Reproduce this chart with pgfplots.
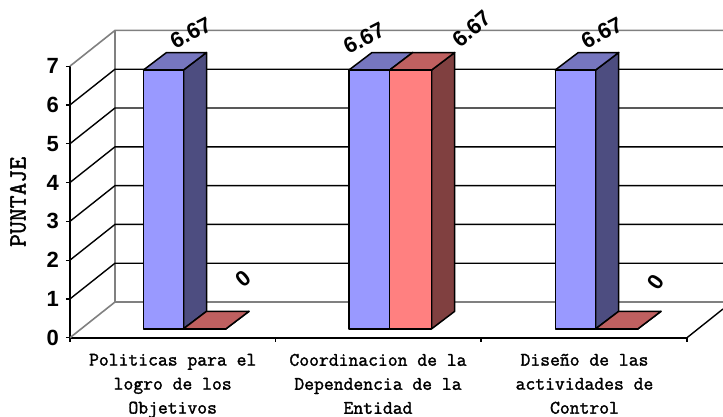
\documentclass[border=0pt]{standalone}
\usepackage{pgfplots}
\usepackage{fontspec}
\pgfplotsset{compat=1.18}
\setmainfont{Liberation Sans}
\newfontfamily\labelfont{Latin Modern Mono}[FakeBold=1.6]

\definecolor{bluefront}{HTML}{9999FF}
\definecolor{bluetop}{HTML}{7676BF}
\definecolor{blueside}{HTML}{4D4D80}
\definecolor{redfront}{HTML}{FF8080}
\definecolor{redtop}{HTML}{BF6060}
\definecolor{redside}{HTML}{804040}
\definecolor{wallgrey}{HTML}{808080}

% Depth of a column and its floor offset, in axis units
\newcommand{\depthx}{23}
\newcommand{\depthy}{0.45}
\newcommand{\basey}{0.23}

% \columnbar{x left}{x right}{value}{front}{top}{side}
\newcommand{\columnbar}[6]{%
  \pgfmathsetmacro{\yb}{\basey}%
  \pgfmathsetmacro{\yt}{\basey+#3}%
  \pgfmathsetmacro{\ybb}{\basey+\depthy}%
  \pgfmathsetmacro{\ytb}{\basey+#3+\depthy}%
  \pgfmathsetmacro{\xlb}{#1+\depthx}%
  \pgfmathsetmacro{\xrb}{#2+\depthx}%
  \edef\doplots{%
    \noexpand\addplot[draw=black,line width=1.5bp,fill=#6,line join=round] coordinates {(#2,\yb) (\xrb,\ybb) (\xrb,\ytb) (#2,\yt)} --cycle;
    \noexpand\addplot[draw=black,line width=1.5bp,fill=#5,line join=round] coordinates {(#1,\yt) (#2,\yt) (\xrb,\ytb) (\xlb,\ytb)} --cycle;
    \noexpand\addplot[draw=black,line width=1.5bp,fill=#4,line join=round] coordinates {(#1,\yb) (#2,\yb) (#2,\yt) (#1,\yt)} --cycle;
  }\doplots
}

% One grid level: diagonal on the side wall, then the line along the back wall
\newcommand{\gridlevel}[1]{%
  \pgfmathsetmacro{\yback}{#1+0.92}%
  \edef\doplots{%
    \noexpand\addplot[black,line width=1.4bp] coordinates {(70,#1) (115,\yback) (723,\yback)};
  }\doplots
}

\begin{document}
\begin{tikzpicture}
\path[use as bounding box] (-70bp,-79.3bp) rectangle (653bp,337.7bp);
\begin{axis}[
  scale only axis,
  width=617bp, height=271.6bp,
  xmin=70, xmax=687, ymin=0, ymax=7,
  clip=false,
  axis lines=left,
  axis line style={-,black,line width=1.6bp},
  tick style={black,line width=1.2bp},
  major tick length=4bp,
  tick align=outside,
  xtick={70,275.5,481,687},
  xticklabels={},
  extra x ticks={172.7,378,584.5},
  extra x tick labels={Politicas para el\\logro de los\\Objetivos,
    Coordinacion de la\\Dependencia de la\\Entidad,
    Diseño de las\\actividades de\\Control},
  extra x tick style={
    major tick length=0pt,
    tick style={draw=none},
    xticklabel style={
      align=center, anchor=north, inner sep=0pt, yshift=-16bp,
      font=\labelfont\fontsize{19.1bp}{24bp}\selectfont}},
  ytick={0,1,...,7},
  /pgf/number format/assume math mode=true,
  yticklabel style={font=\bfseries\fontsize{22bp}{24bp}\selectfont,
    anchor=east, inner sep=0pt, xshift=-7bp},
  ylabel={\labelfont\fontsize{25bp}{24bp}\selectfont PUNTAJE},
  ylabel style={at={(axis description cs:-0.0843,0.5)},anchor=center},
]
% Walls and floor
\addplot[wallgrey,line width=1.6bp] coordinates {(70,0) (115,0.92) (723,0.92)};
\addplot[wallgrey,line width=1.6bp] coordinates {(70,7) (115,7.92) (723,7.92)};
\addplot[wallgrey,line width=1.6bp] coordinates {(115,0.92) (115,7.92)};
\addplot[black,line width=1.4bp] coordinates {(687,0) (723,0.74)};
\gridlevel{1}\gridlevel{2}\gridlevel{3}\gridlevel{4}\gridlevel{5}\gridlevel{6}

% Columns: first series in blue, second in red
\columnbar{143.5}{183.5}{6.67}{bluefront}{bluetop}{blueside}
\columnbar{183.5}{226}{0}{redfront}{redtop}{redside}
\columnbar{349}{389.7}{6.67}{bluefront}{bluetop}{blueside}
\columnbar{389.7}{431.7}{6.67}{redfront}{redtop}{redside}
\columnbar{555.3}{595.7}{6.67}{bluefront}{bluetop}{blueside}
\columnbar{595.7}{638}{0}{redfront}{redtop}{redside}

% Value labels
\begin{scope}[every node/.style={font=\bfseries\fontsize{22bp}{24bp}\selectfont,inner sep=0pt}]
\node[rotate=27] at (axis cs:190.7,7.86) {6.67};
\node[rotate=27] at (axis cs:364,7.72) {6.67};
\node[rotate=40] at (axis cs:471.7,7.97) {6.67};
\node[rotate=27] at (axis cs:601.7,7.86) {6.67};
\node[rotate=40] at (axis cs:243,1.51) {0};
\node[rotate=55] at (axis cs:655.7,1.44) {0};
\end{scope}
\end{axis}
\end{tikzpicture}
\end{document}
